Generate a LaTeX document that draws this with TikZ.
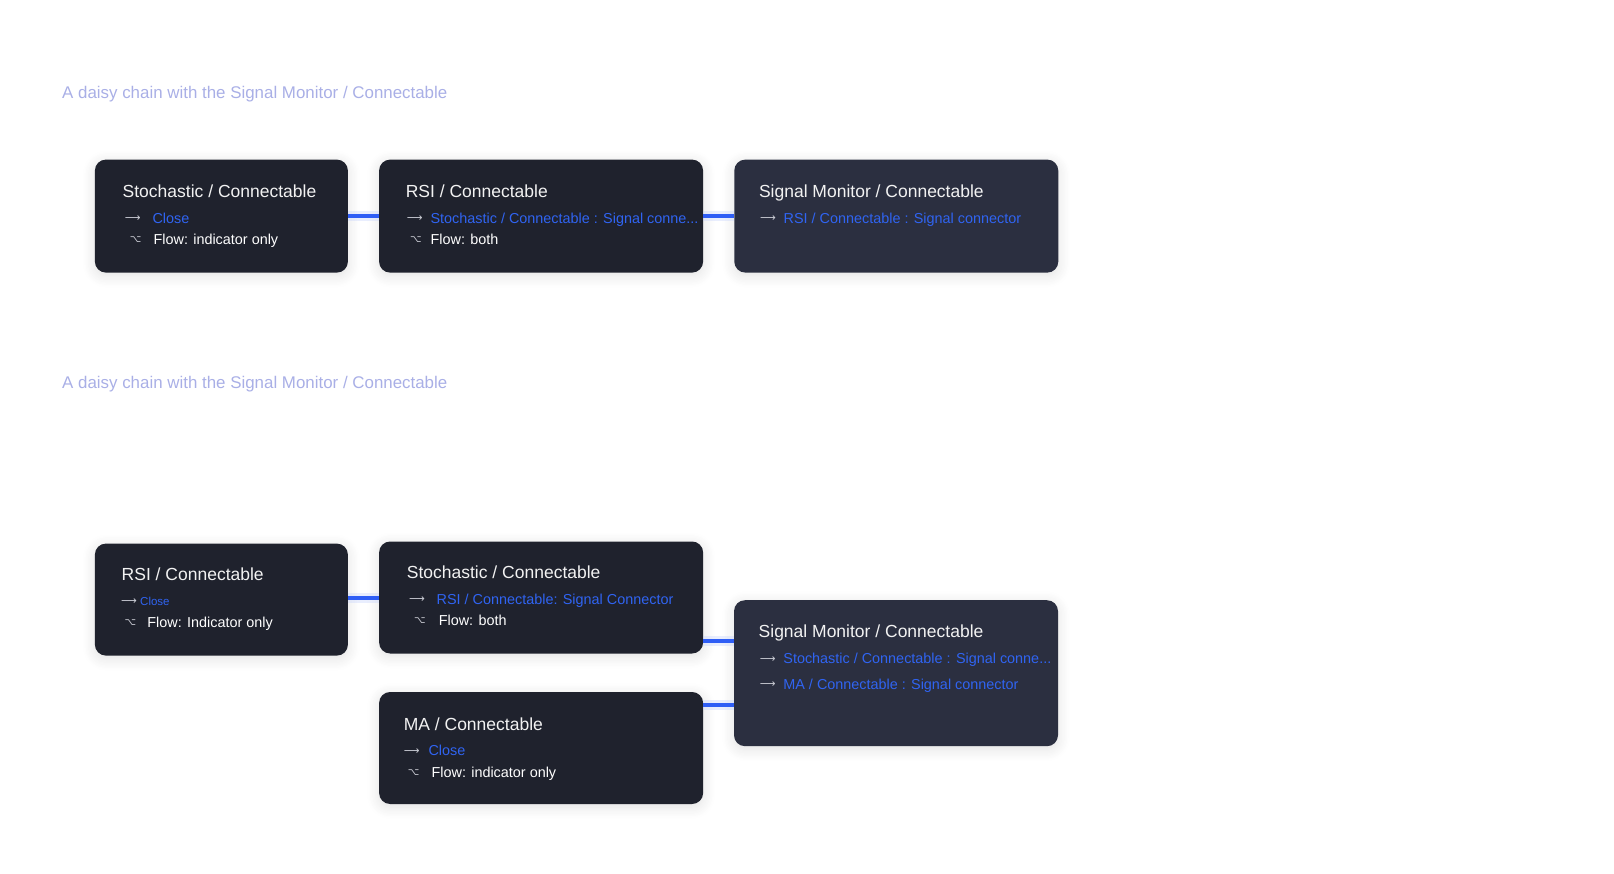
\documentclass[tikz,border=0pt]{standalone}
\usepackage{fontspec}
\setmainfont{Liberation Sans}
\newfontfamily\symfont{DejaVu Sans}
\usepackage{xcolor}
\definecolor{cCard}{HTML}{1F222D}
\definecolor{cCardHub}{HTML}{2B2F40}
\definecolor{cLink}{HTML}{3064F2}
\definecolor{cWire}{HTML}{2F5EF5}
\definecolor{cCaption}{HTML}{A9AFE6}
\definecolor{cSym}{HTML}{C9CBD3}
\usepackage{tikz}
\usetikzlibrary{positioning,calc,shadows.blur}
\tikzset{
  card/.style={fill=cCard,rounded corners=11pt,inner sep=0pt,
    minimum height=113pt,
    blur shadow={shadow xshift=0pt,shadow yshift=-3pt,
      shadow blur radius=12pt,shadow blur steps=10,shadow opacity=12}},
  card-small/.style={card,minimum width=253pt},
  card-wide/.style={card,minimum width=324pt},
  card-hub/.style={fill=cCardHub},
  txt/.style={anchor=west,inner sep=0pt,text depth=0pt},
  txt-head/.style={txt,text height=13pt,text=white!95!black,
    font=\fontsize{17.5}{20}\selectfont},
  txt-link/.style={txt,text height=10.5pt,text=cLink,
    font=\fontsize{14.4}{17}\selectfont},
  txt-link-small/.style={txt-link,text height=8.4pt,font=\fontsize{11.5}{14}\selectfont},
  txt-flow/.style={txt,text height=10.5pt,text=white,
    font=\fontsize{14.4}{17}\selectfont},
  sym-arrow/.style={txt,text height=7pt,text=cSym,
    font=\symfont\fontsize{11}{16}\selectfont},
  sym-opt/.style={txt,text height=6pt,text=cSym,
    font=\symfont\fontsize{10}{12}\selectfont},
  caption/.style={txt,text height=12.4pt,text=cCaption,
    font=\fontsize{16.9}{20}\selectfont},
  wire/.style={draw=cWire,line width=4pt,
    preaction={draw=cWire!30,line width=10pt,opacity=0.35}},
}

\begin{document}
\begin{tikzpicture}[x=1pt,y=-1pt,node distance=30.8pt]
  \useasboundingbox (0,0) rectangle (1614,874);

  % first chain
  \node[caption] (capA) at (62,92.6) {A daisy chain with the Signal Monitor / Connectable};
  \node[card-small] (stoA) at (221.4,216.1) {};
  \node[card-wide,right=of stoA] (rsiA) {};
  \node[card-wide,card-hub,right=of rsiA] (smA) {};
  \draw[wire] (stoA.east) -- (rsiA.west);
  \draw[wire] (rsiA.east) -- (smA.west);

  \node[txt-head]  (stoA-head) at ([shift={(27.8,31.9)}]stoA.north west) {Stochastic / Connectable};
  \node[sym-arrow] (stoA-s1)   at ([shift={(29.9,58.7)}]stoA.north west) {⟶};
  \node[txt-link]  (stoA-l1)   at ([shift={(57.6,58.7)}]stoA.north west) {Close};
  \node[sym-opt]   (stoA-s2)   at ([shift={(35,80.3)}]stoA.north west) {⌥};
  \node[txt-flow]  (stoA-l2)   at ([shift={(58.7,80.3)}]stoA.north west) {Flow: indicator only};

  \node[txt-head]  (rsiA-head) at ([shift={(26.7,31.9)}]rsiA.north west) {RSI / Connectable};
  \node[sym-arrow] (rsiA-s1)   at ([shift={(27.8,58.7)}]rsiA.north west) {⟶};
  \node[txt-link]  (rsiA-l1)   at ([shift={(51.5,58.7)}]rsiA.north west) {Stochastic / Connectable : Signal conne...};
  \node[sym-opt]   (rsiA-s2)   at ([shift={(30.9,80.3)}]rsiA.north west) {⌥};
  \node[txt-flow]  (rsiA-l2)   at ([shift={(51.5,80.3)}]rsiA.north west) {Flow: both};

  \node[txt-head]  (smA-head) at ([shift={(24.7,31.9)}]smA.north west) {Signal Monitor / Connectable};
  \node[sym-arrow] (smA-s1)   at ([shift={(25.8,58.7)}]smA.north west) {⟶};
  \node[txt-link]  (smA-l1)   at ([shift={(49.4,58.7)}]smA.north west) {RSI / Connectable : Signal connector};

  % second chain
  \node[caption] (capB) at (62,381.9) {A daisy chain with the Signal Monitor / Connectable};
  \node[card-small,minimum height=112pt] (rsiB) at (221.4,599.6) {};
  \node[card-wide,minimum height=112pt,right=of rsiB,yshift=2.1pt] (stoB) {};
  \node[card-wide,minimum height=112pt,below=38.1pt of stoB] (maB) {};
  \node[card-wide,card-hub,minimum height=146pt] (smB) at (896,673.2) {};
  \draw[wire] (stoB.west -| rsiB.east) -- (stoB.west);
  \draw[wire] ([yshift=-43.8pt]stoB.east) -- ([yshift=-43.8pt]stoB.east -| smB.west);
  \draw[wire] ([yshift=42.8pt]maB.east) -- ([yshift=42.8pt]maB.east -| smB.west);

  \node[txt-head]       (rsiB-head) at ([shift={(26.8,30.9)}]rsiB.north west) {RSI / Connectable};
  \node[sym-arrow]      (rsiB-s1)   at ([shift={(26.3,57.5)}]rsiB.north west) {⟶};
  \node[txt-link-small] (rsiB-l1)   at ([shift={(45.3,58.0)}]rsiB.north west) {Close};
  \node[sym-opt]        (rsiB-s2)   at ([shift={(29.8,79.2)}]rsiB.north west) {⌥};
  \node[txt-flow]       (rsiB-l2)   at ([shift={(52.5,79.2)}]rsiB.north west) {Flow: Indicator only};

  \node[txt-head]  (stoB-head) at ([shift={(27.8,30.9)}]stoB.north west) {Stochastic / Connectable};
  \node[sym-arrow] (stoB-s1)   at ([shift={(29.9,57.6)}]stoB.north west) {⟶};
  \node[txt-link]  (stoB-l1)   at ([shift={(57.6,57.6)}]stoB.north west) {RSI / Connectable: Signal Connector};
  \node[sym-opt]   (stoB-s2)   at ([shift={(35,79.3)}]stoB.north west) {⌥};
  \node[txt-flow]  (stoB-l2)   at ([shift={(59.7,79.3)}]stoB.north west) {Flow: both};

  \node[txt-head]  (maB-head) at ([shift={(24.7,31.9)}]maB.north west) {MA / Connectable};
  \node[sym-arrow] (maB-s1)   at ([shift={(24.7,58.7)}]maB.north west) {⟶};
  \node[txt-link]  (maB-l1)   at ([shift={(49.4,58.7)}]maB.north west) {Close};
  \node[sym-opt]   (maB-s2)   at ([shift={(28.8,80.3)}]maB.north west) {⌥};
  \node[txt-flow]  (maB-l2)   at ([shift={(52.5,80.3)}]maB.north west) {Flow: indicator only};

  \node[txt-head]  (smB-head) at ([shift={(24.7,30.9)}]smB.north west) {Signal Monitor / Connectable};
  \node[sym-arrow] (smB-s1)   at ([shift={(25.8,58.7)}]smB.north west) {⟶};
  \node[txt-link]  (smB-l1)   at ([shift={(49.4,58.7)}]smB.north west) {Stochastic / Connectable : Signal conne...};
  \node[sym-arrow] (smB-s2)   at ([shift={(25.8,84.4)}]smB.north west) {⟶};
  \node[txt-link]  (smB-l2)   at ([shift={(49.4,84.4)}]smB.north west) {MA / Connectable : Signal connector};
\end{tikzpicture}
\end{document}
